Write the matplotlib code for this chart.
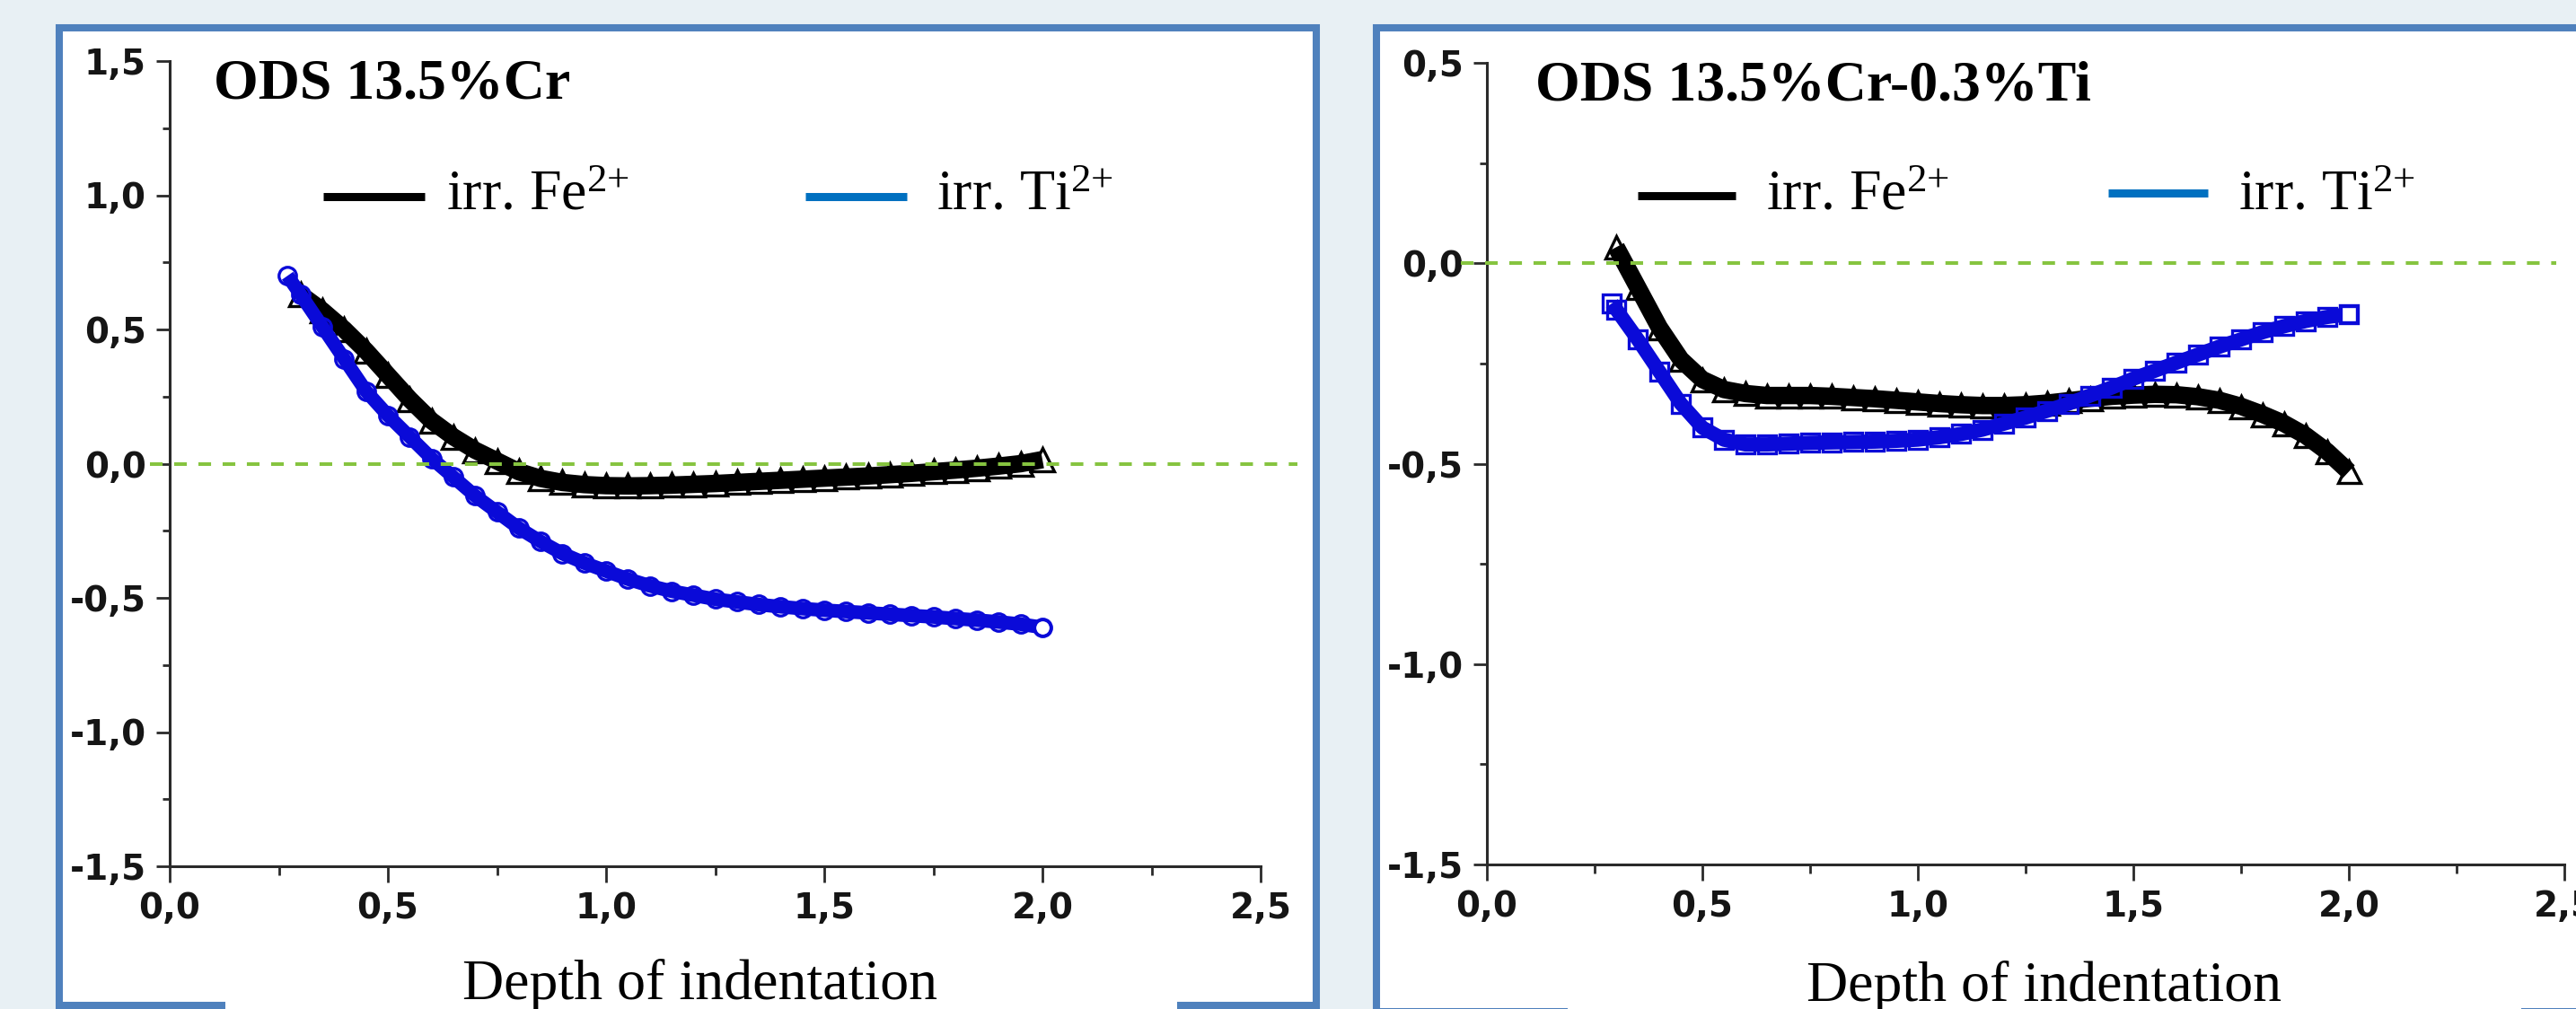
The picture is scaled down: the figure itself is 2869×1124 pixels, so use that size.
import matplotlib
matplotlib.use("Agg")
import matplotlib.pyplot as plt
from matplotlib.patches import Rectangle
from matplotlib.lines import Line2D
from matplotlib.ticker import FixedLocator, MultipleLocator

# ---------------- data ----------------
left_fe_x = [0.30, 0.35, 0.40, 0.45, 0.50, 0.55, 0.60, 0.65, 0.70, 0.75, 0.80, 0.85,
             0.90, 0.95, 1.00, 1.05, 1.10, 1.15, 1.20, 1.25, 1.30, 1.35, 1.40, 1.45,
             1.50, 1.55, 1.60, 1.65, 1.70, 1.75, 1.80, 1.85, 1.90, 1.95, 2.00]
left_fe_y = [0.63, 0.57, 0.50, 0.42, 0.33, 0.24, 0.16, 0.10, 0.05, 0.01, -0.03, -0.055,
             -0.07, -0.078, -0.082, -0.083, -0.082, -0.080, -0.077, -0.074, -0.070, -0.066,
             -0.062, -0.058, -0.054, -0.050, -0.046, -0.041, -0.036, -0.030, -0.024, -0.017,
             -0.009, 0.000, 0.015]

left_ti_x = [0.27, 0.30, 0.35, 0.40, 0.45, 0.50, 0.55, 0.60, 0.65, 0.70, 0.75, 0.80,
             0.85, 0.90, 0.95, 1.00, 1.05, 1.10, 1.15, 1.20, 1.25, 1.30, 1.35, 1.40,
             1.45, 1.50, 1.55, 1.60, 1.65, 1.70, 1.75, 1.80, 1.85, 1.90, 1.95, 2.00]
left_ti_y = [0.70, 0.63, 0.51, 0.39, 0.27, 0.18, 0.10, 0.02, -0.05, -0.12, -0.18, -0.24,
             -0.29, -0.335, -0.37, -0.40, -0.43, -0.455, -0.475, -0.49, -0.505, -0.515,
             -0.525, -0.533, -0.54, -0.546, -0.551, -0.556, -0.561, -0.566, -0.571,
             -0.577, -0.583, -0.59, -0.598, -0.61]

right_fe_x = [0.30, 0.35, 0.40, 0.45, 0.50, 0.55, 0.60, 0.65, 0.70, 0.75, 0.80, 0.85,
              0.90, 0.95, 1.00, 1.05, 1.10, 1.15, 1.20, 1.25, 1.30, 1.35, 1.40, 1.45,
              1.50, 1.55, 1.60, 1.65, 1.70, 1.75, 1.80, 1.85, 1.90, 1.95, 2.00]
right_fe_y = [0.04, -0.06, -0.16, -0.24, -0.29, -0.315, -0.325, -0.33, -0.33, -0.33,
              -0.332, -0.335, -0.338, -0.342, -0.346, -0.35, -0.353, -0.355, -0.355,
              -0.353, -0.349, -0.343, -0.337, -0.332, -0.329, -0.327, -0.328, -0.333,
              -0.342, -0.357, -0.377, -0.40, -0.43, -0.47, -0.52]

right_ti_x = [0.29, 0.30, 0.35, 0.40, 0.45, 0.50, 0.55, 0.60, 0.65, 0.70, 0.75, 0.80,
              0.85, 0.90, 0.95, 1.00, 1.05, 1.10, 1.15, 1.20, 1.25, 1.30, 1.35, 1.40,
              1.45, 1.50, 1.55, 1.60, 1.65, 1.70, 1.75, 1.80, 1.85, 1.90, 1.95, 2.00]
right_ti_y = [-0.10, -0.115, -0.19, -0.27, -0.35, -0.41, -0.44, -0.452, -0.452, -0.45,
              -0.448, -0.447, -0.446, -0.445, -0.443, -0.44, -0.434, -0.426, -0.415,
              -0.40, -0.385, -0.368, -0.35, -0.33, -0.31, -0.288, -0.268, -0.248, -0.228,
              -0.208, -0.19, -0.172, -0.157, -0.144, -0.134, -0.127]

x_ticks = [0.0, 0.5, 1.0, 1.5, 2.0, 2.5]
x_ticklabels = ["0,0", "0,5", "1,0", "1,5", "2,0", "2,5"]
left_y_ticks = [-1.5, -1.0, -0.5, 0.0, 0.5, 1.0, 1.5]
left_y_ticklabels = ["-1,5", "-1,0", "-0,5", "0,0", "0,5", "1,0", "1,5"]
right_y_ticks = [-1.5, -1.0, -0.5, 0.0, 0.5]
right_y_ticklabels = ["-1,5", "-1,0", "-0,5", "0,0", "0,5"]

titles = ["ODS 13.5%Cr", "ODS 13.5%Cr-0.3%Ti"]
legend_labels = [r"irr. Fe$^{2{+}}$", r"irr. Ti$^{2{+}}$"]
x_label = "Depth of indentation"

# ---------------- style ----------------
W, H = 2869, 1124
BG = "#e8f0f4"
BORDER = "#4f81bd"
GREEN = "#86c440"
BLACK = "#000000"
BLUE = "#0a0ad8"
LEG_BLUE = "#0070c0"
SERIF = "Liberation Serif"
TICK_SIZE = 28

plt.rcParams["font.family"] = ["DejaVu Sans"]
plt.rcParams["font.weight"] = "bold"
plt.rcParams["xtick.color"] = "#2a2a2a"
plt.rcParams["ytick.color"] = "#2a2a2a"
plt.rcParams["mathtext.fontset"] = "custom"
plt.rcParams["mathtext.rm"] = SERIF
plt.rcParams["mathtext.it"] = SERIF
plt.rcParams["mathtext.bf"] = SERIF + ":bold"
plt.rcParams["mathtext.default"] = "regular"

fig = plt.figure(figsize=(W / 100, H / 100), dpi=100, facecolor=BG)


def fx(px):
    return px / W


def fy(py):
    return 1 - py / H


def rect(x0, y0, x1, y1, **kw):
    r = Rectangle((fx(x0), fy(y1)), fx(x1) - fx(x0), fy(y0) - fy(y1),
                  transform=fig.transFigure, **kw)
    fig.add_artist(r)


# panel frames
rect(66, 31, 1466, 1120, facecolor="white", edgecolor=BORDER, lw=5.8, zorder=-2)
rect(1533, 31, 2900, 1127, facecolor="white", edgecolor=BORDER, lw=5.8, zorder=-2)
# white boxes of the x labels that interrupt the frames
rect(251, 1050, 1311, 1130, facecolor="white", edgecolor="none", zorder=-1)
rect(1746, 1050, 2808, 1130, facecolor="white", edgecolor="none", zorder=-1)


def make_axes(box, ylim, yticks, yticklabels):
    x0, y0, x1, y1 = box
    ax = fig.add_axes([fx(x0), fy(y1), fx(x1) - fx(x0), fy(y0) - fy(y1)])
    ax.set_facecolor("none")
    ax.set_xlim(0, 2.5)
    ax.set_ylim(*ylim)
    for s in ["top", "right"]:
        ax.spines[s].set_visible(False)
    for s in ["left", "bottom"]:
        ax.spines[s].set_linewidth(2.2)
        ax.spines[s].set_color("#2a2a2a")
    ax.xaxis.set_major_locator(FixedLocator(x_ticks))
    ax.yaxis.set_major_locator(FixedLocator(yticks))
    ax.xaxis.set_minor_locator(MultipleLocator(0.25))
    ax.yaxis.set_minor_locator(MultipleLocator(0.25))
    ax.set_xticklabels(x_ticklabels, fontsize=TICK_SIZE, fontweight="bold",
                       family="DejaVu Sans", color="#151515")
    ax.set_yticklabels(yticklabels, fontsize=TICK_SIZE, fontweight="bold",
                       family="DejaVu Sans", color="#151515")
    ax.tick_params(axis="x", which="major", direction="out", length=13, width=2.0, pad=7)
    ax.tick_params(axis="x", which="minor", direction="out", length=7, width=2.0)
    ax.tick_params(axis="y", which="major", direction="out", length=11, width=2.0, pad=8)
    ax.tick_params(axis="y", which="minor", direction="out", length=6, width=2.0)
    return ax


axL = make_axes((189, 68, 1404, 965), (-1.5, 1.5), left_y_ticks, left_y_ticklabels)
axR = make_axes((1656, 70, 2856, 963), (-1.5, 0.5), right_y_ticks, right_y_ticklabels)

# series
axL.plot(left_fe_x, left_fe_y, color=BLACK, lw=14, marker="^", ms=19, mfc="none",
         mec=BLACK, mew=2.4, solid_capstyle="butt", zorder=3)
axL.plot(left_ti_x, left_ti_y, color=BLUE, lw=11, marker="o", ms=14, mfc="none",
         mec=BLUE, mew=2.4, solid_capstyle="butt", zorder=4)
axL.plot([left_ti_x[-1]], [left_ti_y[-1]], linestyle="none", marker="o", ms=13,
         mfc="white", mec=BLUE, mew=2.4, zorder=4)

axR.plot(right_fe_x, right_fe_y, color=BLACK, lw=14, marker="^", ms=18, mfc="none",
         mec=BLACK, mew=2.4, solid_capstyle="butt", zorder=3)
axR.plot(right_ti_x, right_ti_y, color=BLUE, lw=11.5, marker="s", ms=14.5, mfc="none",
         mec=BLUE, mew=2.4, solid_capstyle="butt", zorder=4)
axR.plot([right_ti_x[-1]], [right_ti_y[-1]], linestyle="none", marker="s", ms=13,
         mfc="white", mec=BLUE, mew=2.4, zorder=4)

# zero reference lines
axL.axhline(0, xmin=(167 - 189) / 1215, xmax=(1445 - 189) / 1215, color=GREEN, lw=2.9,
            ls=(0, (3.5, 3.2)), clip_on=False, zorder=6)
axR.axhline(0, xmin=(1627 - 1656) / 1200, xmax=(2847 - 1656) / 1200, color=GREEN, lw=2.9,
            ls=(0, (3.5, 3.2)), clip_on=False, zorder=6)

# titles
fig.text(fx(238), fy(110), titles[0], family=SERIF, weight="bold", size=46,
         va="baseline", ha="left")
fig.text(fx(1710), fy(112), titles[1], family=SERIF, weight="bold", size=46,
         va="baseline", ha="left")

# legends
LEG_LW = 6.5


def legend_item(x0, x1, yline, xtext, label, color):
    fig.add_artist(Line2D([fx(x0), fx(x1)], [fy(yline), fy(yline)], color=color,
                          lw=LEG_LW, transform=fig.transFigure, solid_capstyle="butt"))
    fig.text(fx(xtext), fy(233), label, family=SERIF, weight="normal", size=46,
             va="baseline", ha="left")


legend_item(360, 473, 219, 497, legend_labels[0], BLACK)
legend_item(897, 1010, 219, 1043, legend_labels[1], LEG_BLUE)
legend_item(1824, 1933, 218, 1967, legend_labels[0], BLACK)
legend_item(2348, 2459, 215, 2493, legend_labels[1], LEG_BLUE)

# x labels
fig.text(fx(780), fy(1113), x_label, family=SERIF, weight="normal", size=46,
         va="baseline", ha="center")
fig.text(fx(2277), fy(1115), x_label, family=SERIF, weight="normal", size=46,
         va="baseline", ha="center")

fig.savefig("out.png", dpi=100, facecolor=BG)
